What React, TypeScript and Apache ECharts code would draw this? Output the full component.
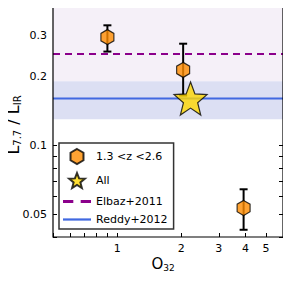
import React, { useEffect, useRef } from "react";
import * as echarts from "echarts";

const sampleX = [0.9, 2.04, 3.92];
const sampleY = [0.296, 0.213, 0.0535];
const sampleLo = [0.256, 0.165, 0.043];
const sampleHi = [0.333, 0.277, 0.0645];
const allX = [2.21];
const allY = [0.16];
const elbazValue = 0.25;
const elbazBand = [0.19, 0.4];
const reddyValue = 0.16;
const reddyBand = [0.13, 0.19];
const xRange = [0.5, 6];
const yRange = [0.04, 0.4];
const xTicks = [0.5, 0.6, 0.7, 0.8, 0.9, 1, 2, 3, 4, 5, 6];
const xLabels = [1, 2, 3, 4, 5];
const yTicks = [0.04, 0.05, 0.06, 0.07, 0.08, 0.09, 0.1, 0.2, 0.3, 0.4];
const yLabels = [0.05, 0.1, 0.2, 0.3];

const L = (v: number) => Math.log10(v);
const unL = (v: number) => parseFloat(Math.pow(10, v).toPrecision(3));

function polyPath(pts: number[][]) {
  return "path://" + pts.map((p, i) => (i ? "L" : "M") + p[0].toFixed(3) + "," + p[1].toFixed(3)).join(" ") + " Z";
}
const hexPath = polyPath([0, 60, 120, 180, 240, 300].map((a) => {
  const r = ((a - 90) * Math.PI) / 180;
  return [10 + 10 * Math.cos(r), 10 + 10 * Math.sin(r)];
}));
const starPath = polyPath(Array.from({ length: 10 }, (_, k) => {
  const r = ((k * 36 - 90) * Math.PI) / 180;
  const rad = k % 2 === 0 ? 10 : 4.3;
  return [10 + rad * Math.cos(r), 10 + rad * Math.sin(r)];
}));
const dashIcon = "path://M0,0 L7,0 L7,2 L0,2 Z M12,0 L19,0 L19,2 L12,2 Z";
const lineIcon = "path://M0,0 L25,0 L25,2 L0,2 Z";

const GRID = { left: 53, right: 8, top: 7, bottom: 45 };
const W = 291, H = 282;

export default function App() {
  const ref = useRef<HTMLDivElement>(null);
  useEffect(() => {
    const chart = echarts.init(ref.current!, null, { renderer: "svg" });
    const font = "DejaVu Sans";
    const xMin = L(xRange[0]), xMax = L(xRange[1]);
    const yMin = L(yRange[0]), yMax = L(yRange[1]);
    const tickStyle = { show: true, inside: true, length: 4, lineStyle: { color: "#000", width: 1 } };
    const xAxisBase = {
      type: "value", min: xMin, max: xMax,
      splitLine: { show: false },
      axisLine: { show: false, onZero: false },
    };
    const yAxisBase = {
      type: "value", min: yMin, max: yMax,
      splitLine: { show: false },
      axisLine: { show: false, onZero: false },
    };
    chart.setOption({
      animation: false,
      grid: GRID,
      xAxis: [
        {
          ...xAxisBase, position: "bottom",
          axisTick: { ...tickStyle, customValues: xTicks.map(L) },
          axisLabel: {
            customValues: xLabels.map(L), formatter: (v: number) => String(unL(v)),
            color: "#000", fontFamily: font, fontSize: 11, margin: 6,
          },
        },
        {
          ...xAxisBase, position: "top",
          axisTick: { ...tickStyle, customValues: xTicks.map(L) },
          axisLabel: { show: false },
        },
      ],
      yAxis: [
        {
          ...yAxisBase, position: "left",
          axisTick: { ...tickStyle, customValues: yTicks.map(L) },
          axisLabel: {
            customValues: yLabels.map(L), formatter: (v: number) => String(unL(v)),
            color: "#000", fontFamily: font, fontSize: 11, margin: 6,
          },
        },
        {
          ...yAxisBase, position: "right",
          axisTick: { ...tickStyle, customValues: yTicks.map(L) },
          axisLabel: { show: false },
        },
      ],
      legend: {
        orient: "vertical", left: 59, top: 143,
        width: 114,
        padding: [5, 6, 4, 4],
        itemGap: 7,
        itemWidth: 28, itemHeight: 15,
        borderColor: "#333", borderWidth: 1.5, borderRadius: 0,
        backgroundColor: "#fff",
        textStyle: { fontFamily: font, fontSize: 11, color: "#000" },
        data: [
          { name: "1.3 <z <2.6", icon: hexPath },
          { name: "All", icon: starPath },
          { name: "Elbaz+2011", icon: dashIcon, itemStyle: { color: "#8b008b", borderWidth: 0 } },
          { name: "Reddy+2012", icon: lineIcon, itemStyle: { color: "#4169e1", borderWidth: 0 } },
        ],
      },
      graphic: [
        {
          type: "rect", z: 100, silent: true,
          shape: { x: GRID.left, y: GRID.top, width: W - GRID.left - GRID.right, height: H - GRID.top - GRID.bottom },
          style: { fill: "none", stroke: "#000", lineWidth: 1.2 },
        },
        {
          type: "text", x: 13, y: 125, rotation: Math.PI / 2,
          style: {
            text: "{b|L}{s|7.7}{b| / L}{s|IR}",
            align: "center", verticalAlign: "middle",
            rich: {
              b: { fontFamily: font, fontSize: 16, fill: "#000" },
              s: { fontFamily: font, fontSize: 10, fill: "#000", padding: [8, 0, 0, 0] },
            },
          },
        },
        {
          type: "text", x: 163, y: 264,
          style: {
            text: "{b|O}{s|32}",
            align: "center", verticalAlign: "middle",
            rich: {
              b: { fontFamily: font, fontSize: 15, fill: "#000" },
              s: { fontFamily: font, fontSize: 9, fill: "#000", padding: [8, 0, 0, 0] },
            },
          },
        },
        {
          type: "text", x: 267, y: 25,
          style: { text: "c", fontFamily: font, fontSize: 15, fontWeight: "bold", fill: "#000", align: "center", verticalAlign: "middle" },
        },
      ],
      series: [
        {
          name: "bands", type: "custom", z: 1, silent: true,
          data: [
            [L(elbazBand[0]), L(elbazBand[1]), 0],
            [L(reddyBand[0]), L(reddyBand[1]), 1],
          ],
          renderItem: (params: any, api: any) => {
            const a = api.coord([xMin, api.value(0)]);
            const b = api.coord([xMax, api.value(1)]);
            return {
              type: "rect",
              shape: { x: a[0], y: b[1], width: b[0] - a[0], height: a[1] - b[1] },
              style: { fill: api.value(2) === 0 ? "#f5f0f8" : "#dcdff3" },
            };
          },
          encode: { y: [0, 1] },
        },
        {
          name: "Elbaz+2011", type: "line", symbol: "none", z: 3,
          data: [[xMin, L(elbazValue)], [xMax, L(elbazValue)]],
          lineStyle: { color: "#8b008b", width: 2, type: [7, 5] },
          itemStyle: { color: "#8b008b" },
        },
        {
          name: "Reddy+2012", type: "line", symbol: "none", z: 3,
          data: [[xMin, L(reddyValue)], [xMax, L(reddyValue)]],
          lineStyle: { color: "#4169e1", width: 2 },
          itemStyle: { color: "#4169e1" },
        },
        {
          name: "errors", type: "custom", z: 4,
          data: sampleX.map((x, i) => [L(x), L(sampleLo[i]), L(sampleHi[i])]),
          renderItem: (params: any, api: any) => {
            const lo = api.coord([api.value(0), api.value(1)]);
            const hi = api.coord([api.value(0), api.value(2)]);
            const s = { stroke: "#000", lineWidth: 2 };
            return {
              type: "group",
              children: [
                { type: "line", shape: { x1: lo[0], y1: lo[1], x2: hi[0], y2: hi[1] }, style: s },
                { type: "line", shape: { x1: lo[0] - 4, y1: lo[1], x2: lo[0] + 4, y2: lo[1] }, style: s },
                { type: "line", shape: { x1: hi[0] - 4, y1: hi[1], x2: hi[0] + 4, y2: hi[1] }, style: s },
              ],
            };
          },
          encode: { x: 0, y: [1, 2] },
        },
        {
          name: "1.3 <z <2.6", type: "scatter", z: 5,
          symbol: hexPath, symbolSize: [13, 15],
          data: sampleX.map((x, i) => [L(x), L(sampleY[i])]),
          itemStyle: { color: "#ff8c00", borderColor: "#000", borderWidth: 1.2 },
        },
        {
          name: "All", type: "scatter", z: 6,
          symbol: starPath, symbolSize: 33,
          data: allX.map((x, i) => [L(x), L(allY[i])]),
          itemStyle: { color: "#ffd700", borderColor: "#000", borderWidth: 1.2 },
        },
      ],
    });
    return () => chart.dispose();
  }, []);
  return <div ref={ref} style={{ width: W, height: H, margin: -8 }} />;
}
